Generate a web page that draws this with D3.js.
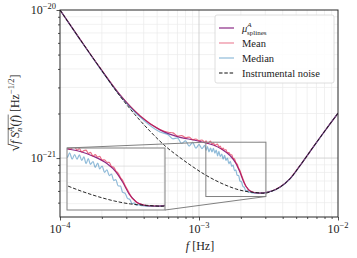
<!DOCTYPE html>
<html>
<head>
<meta charset="utf-8">
<script src="https://cdn.jsdelivr.net/npm/d3@7"></script>
<style>
  body { margin: 0; background: #fff; }
  text { font-family: "Liberation Serif", "DejaVu Serif", serif; fill: #222; }
</style>
</head>
<body>
<svg id="chart" width="357" height="258"></svg>
<script>
// spline fit (mu_splines), A channel
const splineFreq = [1.00e-4, 1.39e-4, 1.94e-4, 2.70e-4, 3.77e-4, 5.24e-4, 7.30e-4, 9.35e-4,
  1.12e-3, 1.28e-3, 1.46e-3, 1.68e-3, 1.84e-3, 1.97e-3, 2.12e-3, 2.33e-3, 2.60e-3, 2.85e-3,
  3.35e-3, 3.83e-3, 4.52e-3, 5.33e-3, 6.29e-3, 7.43e-3, 8.76e-3, 1.00e-2];
const splineVals = [1.00e-20, 6.36e-21, 4.06e-21, 2.67e-21, 1.92e-21, 1.55e-21, 1.38e-21, 1.32e-21,
  1.265e-21, 1.22e-21, 1.145e-21, 1.035e-21, 9.25e-22, 8.05e-22, 6.75e-22, 6.00e-22, 5.81e-22, 5.80e-22,
  5.99e-22, 6.37e-22, 7.26e-22, 8.89e-22, 1.107e-21, 1.377e-21, 1.70e-21, 2.01e-21];

// mean / median of the samples
const statFreq = [1.00e-4, 1.39e-4, 1.94e-4, 2.70e-4, 3.77e-4, 5.24e-4,
  6.0e-4, 6.5e-4, 7.0e-4, 7.5e-4, 8.0e-4, 8.5e-4, 9.0e-4, 9.5e-4, 1.00e-3, 1.05e-3,
  1.10e-3, 1.125e-3, 1.15e-3, 1.18e-3, 1.21e-3, 1.24e-3, 1.27e-3, 1.30e-3, 1.33e-3, 1.36e-3,
  1.39e-3, 1.42e-3, 1.46e-3, 1.49e-3, 1.53e-3, 1.56e-3, 1.60e-3, 1.64e-3, 1.68e-3, 1.72e-3,
  1.76e-3, 1.80e-3, 1.84e-3, 1.88e-3, 1.93e-3, 1.97e-3, 2.02e-3, 2.07e-3, 2.12e-3, 2.17e-3,
  2.22e-3, 2.27e-3, 2.33e-3, 2.38e-3, 2.44e-3, 2.50e-3, 2.56e-3, 2.62e-3, 2.68e-3, 2.75e-3,
  2.81e-3, 2.88e-3, 2.95e-3, 3.02e-3, 3.10e-3,
  3.35e-3, 3.83e-3, 4.52e-3, 5.33e-3, 6.29e-3, 7.43e-3, 8.76e-3, 1.00e-2];
const meanVals = [1.00e-20, 6.36e-21, 4.06e-21, 2.67e-21, 1.93e-21, 1.56e-21,
  1.495e-21, 1.48e-21, 1.41e-21, 1.42e-21, 1.375e-21, 1.385e-21, 1.33e-21, 1.345e-21, 1.31e-21, 1.325e-21,
  1.28e-21, 1.305e-21, 1.26e-21, 1.28e-21, 1.30e-21, 1.245e-21, 1.268e-21, 1.215e-21, 1.235e-21, 1.242e-21,
  1.19e-21, 1.205e-21, 1.145e-21, 1.168e-21, 1.13e-21, 1.142e-21, 1.086e-21, 1.09e-21, 1.054e-21, 1.052e-21,
  9.95e-22, 9.86e-22, 9.34e-22, 9.10e-22, 8.53e-22, 8.23e-22, 7.68e-22, 7.24e-22, 6.82e-22, 6.46e-22,
  6.31e-22, 6.10e-22, 6.01e-22, 5.94e-22, 5.88e-22, 5.85e-22, 5.82e-22, 5.81e-22, 5.80e-22, 5.80e-22,
  5.80e-22, 5.81e-22, 5.83e-22, 5.86e-22, 5.90e-22,
  5.99e-22, 6.37e-22, 7.26e-22, 8.89e-22, 1.107e-21, 1.377e-21, 1.70e-21, 2.01e-21];
const medianVals = [1.00e-20, 6.34e-21, 4.04e-21, 2.65e-21, 1.89e-21, 1.50e-21,
  1.436e-21, 1.349e-21, 1.368e-21, 1.256e-21, 1.306e-21, 1.206e-21, 1.277e-21, 1.166e-21, 1.235e-21, 1.157e-21,
  1.219e-21, 1.126e-21, 1.197e-21, 1.100e-21, 1.170e-21, 1.099e-21, 1.164e-21, 1.081e-21, 1.133e-21, 1.035e-21,
  1.109e-21, 1.025e-21, 1.065e-21, 9.83e-22, 1.043e-21, 9.64e-22, 1.000e-21, 9.18e-22, 9.52e-22, 8.79e-22,
  8.96e-22, 8.21e-22, 8.33e-22, 7.65e-22, 7.61e-22, 7.00e-22, 6.92e-22, 6.44e-22, 6.35e-22, 6.00e-22,
  6.06e-22, 5.86e-22, 5.91e-22, 5.84e-22, 5.82e-22, 5.79e-22, 5.79e-22, 5.80e-22, 5.79e-22, 5.79e-22,
  5.80e-22, 5.80e-22, 5.82e-22, 5.85e-22, 5.89e-22,
  5.98e-22, 6.36e-22, 7.25e-22, 8.88e-22, 1.106e-21, 1.376e-21, 1.70e-21, 2.01e-21];

// instrumental noise only
const instFreq = [1.00e-4, 1.39e-4, 1.94e-4, 2.70e-4, 3.47e-4, 4.44e-4, 5.69e-4, 7.30e-4, 8.61e-4,
  1.10e-3, 1.30e-3, 1.54e-3, 1.82e-3, 2.14e-3, 2.53e-3, 2.98e-3,
  3.35e-3, 3.83e-3, 4.52e-3, 5.33e-3, 6.29e-3, 7.43e-3, 8.76e-3, 1.00e-2];
const instVals = [1.00e-20, 6.36e-21, 4.06e-21, 2.62e-21, 1.96e-21, 1.52e-21, 1.21e-21, 1.007e-21, 9.01e-22,
  7.74e-22, 7.10e-22, 6.59e-22, 6.21e-22, 5.97e-22, 5.86e-22, 5.79e-22,
  5.99e-22, 6.37e-22, 7.26e-22, 8.89e-22, 1.107e-21, 1.377e-21, 1.70e-21, 2.01e-21];

// ticks
const xMajor = [1e-4, 1e-3, 1e-2];
const xMinor = [2e-4, 3e-4, 4e-4, 5e-4, 6e-4, 7e-4, 8e-4, 9e-4, 2e-3, 3e-3, 4e-3, 5e-3, 6e-3, 7e-3, 8e-3, 9e-3];
const yMajor = [1e-21, 1e-20];
const yMinor = [5e-22, 6e-22, 7e-22, 8e-22, 9e-22, 2e-21, 3e-21, 4e-21, 5e-21, 6e-21, 7e-21, 8e-21, 9e-21];

// zoomed region
const zoomF = [1.12e-3, 3.03e-3];
const zoomV = [5.5e-22, 1.28e-21];

const W = 357, H = 258;
const margin = {top: 10, right: 19, bottom: 41, left: 60};
const svg = d3.select("#chart");

const x = d3.scaleLog().domain([1e-4, 1e-2]).range([margin.left, W - margin.right]);
const y = d3.scaleLog().domain([4e-22, 1e-20]).range([H - margin.bottom, margin.top]);

const zip = (fs, vs) => fs.map((f, i) => ({f: f, v: vs[i]}));
const splineData = zip(splineFreq, splineVals);
const meanData = zip(statFreq, meanVals);
const medianData = zip(statFreq, medianVals);
const instData = zip(instFreq, instVals);

const colSpline = "#8a2a86", colMean = "#dc143c", colMedian = "#1f77b4";

svg.append("defs").append("clipPath").attr("id", "clipMain")
  .append("rect").attr("x", margin.left).attr("y", margin.top)
  .attr("width", x.range()[1] - margin.left).attr("height", y.range()[0] - margin.top);

//////////
// GRID //
//////////
const grid = svg.append("g");
grid.selectAll(".xmin").data(xMinor).enter().append("line")
  .attr("x1", d => x(d)).attr("x2", d => x(d)).attr("y1", margin.top).attr("y2", y.range()[0])
  .attr("stroke", "#ebebeb").attr("stroke-width", 0.7);
grid.selectAll(".ymin").data(yMinor).enter().append("line")
  .attr("y1", d => y(d)).attr("y2", d => y(d)).attr("x1", margin.left).attr("x2", x.range()[1])
  .attr("stroke", "#ebebeb").attr("stroke-width", 0.7);
grid.append("line").attr("x1", x(1e-3)).attr("x2", x(1e-3)).attr("y1", margin.top).attr("y2", y.range()[0])
  .attr("stroke", "#c8c8c8").attr("stroke-width", 0.8);
grid.append("line").attr("y1", y(1e-21)).attr("y2", y(1e-21)).attr("x1", margin.left).attr("x2", x.range()[1])
  .attr("stroke", "#c8c8c8").attr("stroke-width", 0.8);

///////////
// LINES //
///////////
function drawLines(g, sx, sy) {
  const smooth = d3.line().x(d => sx(d.f)).y(d => sy(d.v)).curve(d3.curveMonotoneX);
  g.append("path").attr("d", smooth(splineData)).attr("fill", "none")
    .attr("stroke", colSpline).attr("stroke-width", 1.2);
  g.append("path").attr("d", smooth(meanData)).attr("fill", "none")
    .attr("stroke", colMean).attr("stroke-opacity", 0.62).attr("stroke-width", 1.2);
  g.append("path").attr("d", smooth(medianData)).attr("fill", "none")
    .attr("stroke", colMedian).attr("stroke-opacity", 0.5).attr("stroke-width", 1.2);
  g.append("path").attr("d", smooth(instData)).attr("fill", "none")
    .attr("stroke", "#111").attr("stroke-width", 0.9).attr("stroke-dasharray", "3.5,1.8");
}
drawLines(svg.append("g").attr("clip-path", "url(#clipMain)"), x, y);

///////////
// INSET //
///////////
const inset = {x0: 67, x1: 165, y0: 148, y1: 210};
const xi = d3.scaleLog().domain(zoomF).range([inset.x0, inset.x1]);
const yi = d3.scaleLog().domain(zoomV).range([inset.y1, inset.y0]);

// region marker + connectors
svg.append("rect")
  .attr("x", x(zoomF[0])).attr("y", y(zoomV[1]))
  .attr("width", x(zoomF[1]) - x(zoomF[0])).attr("height", y(zoomV[0]) - y(zoomV[1]))
  .attr("fill", "none").attr("stroke", "#808080").attr("stroke-width", 1);
svg.append("line").attr("x1", inset.x0).attr("y1", inset.y0)
  .attr("x2", x(zoomF[0])).attr("y2", y(zoomV[1])).attr("stroke", "#808080").attr("stroke-width", 1);
svg.append("line").attr("x1", inset.x1).attr("y1", inset.y1)
  .attr("x2", x(zoomF[1])).attr("y2", y(zoomV[0])).attr("stroke", "#808080").attr("stroke-width", 1);

svg.select("defs").append("clipPath").attr("id", "clipInset")
  .append("rect").attr("x", inset.x0).attr("y", inset.y0)
  .attr("width", inset.x1 - inset.x0).attr("height", inset.y1 - inset.y0);

const ig = svg.append("g");
ig.append("rect").attr("x", inset.x0).attr("y", inset.y0)
  .attr("width", inset.x1 - inset.x0).attr("height", inset.y1 - inset.y0).attr("fill", "#fff");
const igrid = ig.append("g").attr("clip-path", "url(#clipInset)");
igrid.selectAll("line.v").data([2e-3, 3e-3]).enter().append("line")
  .attr("x1", d => xi(d)).attr("x2", d => xi(d)).attr("y1", inset.y0).attr("y2", inset.y1)
  .attr("stroke", "#ebebeb").attr("stroke-width", 0.7);
igrid.selectAll("line.h").data([6e-22, 7e-22, 8e-22, 9e-22, 1e-21]).enter().append("line")
  .attr("y1", d => yi(d)).attr("y2", d => yi(d)).attr("x1", inset.x0).attr("x2", inset.x1)
  .attr("stroke", d => d === 1e-21 ? "#d8d8d8" : "#ebebeb").attr("stroke-width", 0.7);
drawLines(ig.append("g").attr("clip-path", "url(#clipInset)"), xi, yi);
ig.append("rect").attr("x", inset.x0).attr("y", inset.y0)
  .attr("width", inset.x1 - inset.x0).attr("height", inset.y1 - inset.y0)
  .attr("fill", "none").attr("stroke", "#808080").attr("stroke-width", 1);

//////////
// AXES //
//////////
const axisCol = "#262626";
const xAxisG = svg.append("g").attr("transform", "translate(0," + y.range()[0] + ")");
xAxisG.call(d3.axisBottom(x).tickValues(xMajor).tickSize(3.5).tickFormat(""));
xAxisG.append("g").call(d3.axisBottom(x).tickValues(xMinor).tickSize(2).tickFormat(""));
const yAxisG = svg.append("g").attr("transform", "translate(" + margin.left + ",0)");
yAxisG.call(d3.axisLeft(y).tickValues(yMajor).tickSize(3.5).tickFormat(""));
yAxisG.append("g").call(d3.axisLeft(y).tickValues(yMinor).tickSize(2).tickFormat(""));
svg.selectAll(".domain").remove();
svg.selectAll(".tick line").attr("stroke", axisCol).attr("stroke-width", 0.8);

// frame
svg.append("rect").attr("x", margin.left).attr("y", margin.top)
  .attr("width", x.range()[1] - margin.left).attr("height", y.range()[0] - margin.top)
  .attr("fill", "none").attr("stroke", axisCol).attr("stroke-width", 1);

function powLabel(sel, exp) {
  sel.append("tspan").text("10");
  sel.append("tspan").attr("dy", -5).attr("font-size", 8.5).text("\u2212" + exp);
}
xMajor.forEach(v => {
  const t = svg.append("text").attr("x", x(v)).attr("y", 233)
    .attr("text-anchor", "middle").attr("font-size", 12);
  powLabel(t, Math.round(-Math.log10(v)));
});
yMajor.forEach(v => {
  const t = svg.append("text").attr("x", 56).attr("y", y(v) + 4)
    .attr("text-anchor", "end").attr("font-size", 12);
  powLabel(t, Math.round(-Math.log10(v)));
});

// x label
const xl = svg.append("text").attr("x", x(1e-3) + 1).attr("y", 250)
  .attr("text-anchor", "middle").attr("font-size", 12);
xl.append("tspan").attr("font-style", "italic").text("f");
xl.append("tspan").text(" [Hz]");

// y label (rotated), pieces laid out along the baseline
const yl = svg.append("g");
let cx = 0;
function piece(t, opt) {
  opt = opt || {};
  const el = yl.append("text").attr("x", cx).attr("y", opt.dy || 0)
    .attr("font-size", opt.fs || 12).attr("font-style", opt.i ? "italic" : "normal").text(t);
  const w = el.node().getComputedTextLength();
  if (!opt.stay) cx += w;
  return w;
}
piece("\u221A", {fs: 14});
const ovStart = cx - 0.6;
piece("f", {i: true});
cx += 2.5;
piece("S", {i: true});
const wA = piece("A", {i: true, fs: 8.5, dy: -5, stay: true});
const startSub = cx;
piece("n", {i: true, fs: 8.5, dy: 3});
cx = Math.max(cx, startSub + wA) + 0.5;
piece("(");
piece("f", {i: true});
piece(")");
const ovEnd = cx + 0.5;
cx += 3;
piece("[Hz");
piece("\u22121/2", {fs: 8.5, dy: -5});
piece("]");
yl.append("line").attr("x1", ovStart).attr("x2", ovEnd).attr("y1", -10.8).attr("y2", -10.8)
  .attr("stroke", "#222").attr("stroke-width", 0.6);
yl.attr("transform", "translate(19," + (113 + cx / 2) + ") rotate(-90)");

////////////
// LEGEND //
////////////
const lg = svg.append("g");
const lx = 215, ly = 15, lw = 119, lh = 68;
lg.append("rect").attr("x", lx).attr("y", ly).attr("width", lw).attr("height", lh)
  .attr("rx", 2).attr("fill", "#fff").attr("fill-opacity", 0.85)
  .attr("stroke", "#d6d6d6").attr("stroke-width", 0.8);
const entries = [
  {key: "spline", col: colSpline, op: 1},
  {key: "Mean", col: colMean, op: 0.5},
  {key: "Median", col: colMedian, op: 0.5},
  {key: "Instrumental noise", col: "#111", op: 1, dash: "3.5,1.8"}
];
entries.forEach((e, i) => {
  const yy = 28 + i * 15;
  lg.append("line").attr("x1", lx + 4).attr("x2", lx + 19).attr("y1", yy).attr("y2", yy)
    .attr("stroke", e.col).attr("stroke-opacity", e.op).attr("stroke-width", 1.2)
    .attr("stroke-dasharray", e.dash || null);
  const t = lg.append("text").attr("x", lx + 27).attr("y", yy + 3.5).attr("font-size", 10.5);
  if (e.key === "spline") {
    t.append("tspan").attr("font-style", "italic").text("\u03BC");
    t.append("tspan").attr("font-style", "italic").attr("font-size", 7).attr("dy", -5).text("A");
    t.append("tspan").attr("font-size", 7).attr("dx", -4.5).attr("dy", 8).text("splines");
  } else {
    t.text(e.key);
  }
});
</script>
</body>
</html>
